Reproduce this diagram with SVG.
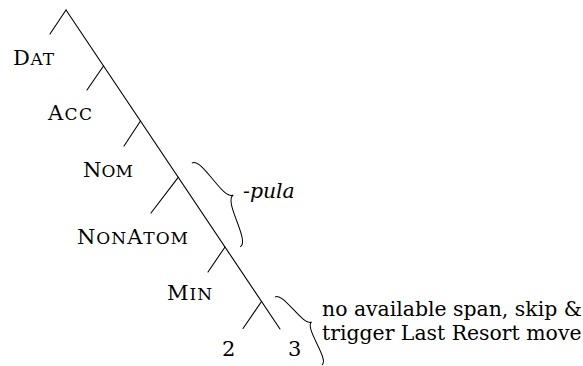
<svg xmlns="http://www.w3.org/2000/svg" width="583" height="366" viewBox="0 0 583 366">
  <style>
    .ln { stroke: #000; stroke-width: 1.1; fill: none; stroke-linecap: round; }
    .br { stroke: #000; stroke-width: 1; fill: none; }
    text { font-family: "DejaVu Serif", "Liberation Serif", serif; fill: #000; }
    .lbl { font-size: 21px; }
    .sc { font-size: 17px; }
    .note { font-size: 20.4px; }
    .it { font-size: 20.4px; font-style: italic; }
  </style>

  <!-- tree spine and branches -->
  <g id="connectors">
    <line class="ln" x1="66" y1="10" x2="280" y2="329"/>
    <line class="ln" x1="66" y1="10" x2="50" y2="34"/>
    <line class="ln" x1="103.5" y1="66" x2="87" y2="90"/>
    <line class="ln" x1="140.5" y1="121" x2="124" y2="146"/>
    <line class="ln" x1="178.2" y1="177.3" x2="151" y2="213"/>
    <line class="ln" x1="225" y1="247" x2="208" y2="272"/>
    <line class="ln" x1="261.5" y1="301.5" x2="243" y2="328.5"/>
  </g>

  <!-- case labels (small caps) -->
  <g id="dat"><text class="lbl" x="13" y="65" textLength="41" lengthAdjust="spacing">D<tspan class="sc">AT</tspan></text></g>
  <g id="acc"><text class="lbl" x="48" y="120" textLength="44" lengthAdjust="spacing">A<tspan class="sc">CC</tspan></text></g>
  <g id="nom"><text class="lbl" x="83" y="177" textLength="50" lengthAdjust="spacing">N<tspan class="sc">OM</tspan></text></g>
  <g id="nonatom"><text class="lbl" x="77" y="244" textLength="111" lengthAdjust="spacing">N<tspan class="sc">ON</tspan>A<tspan class="sc">TOM</tspan></text></g>
  <g id="min"><text class="lbl" x="167" y="300" textLength="45" lengthAdjust="spacing">M<tspan class="sc">IN</tspan></text></g>
  <g id="leaf2"><text class="lbl" x="222" y="356">2</text></g>
  <g id="leaf3"><text class="lbl" x="288" y="356">3</text></g>

  <!-- braces with their annotations -->
  <g id="pula">
    <path class="br" transform="translate(216,205) rotate(-30)" d="M0,-48.4 C12,-48.4 8,0 20,0 C8,0 12,48.4 0,48.4"/>
    <text class="it" x="243" y="198">-pula</text>
  </g>
  <g id="lastresort">
    <path class="br" transform="translate(298.5,331) rotate(-34.6)" d="M0,-41.3 C9.6,-41.3 6.4,0 16,0 C6.4,0 9.6,41.3 0,41.3"/>
    <text class="note" x="322" y="316">no available span, skip &amp;</text>
    <text class="note" x="322" y="340">trigger Last Resort move</text>
  </g>
</svg>
